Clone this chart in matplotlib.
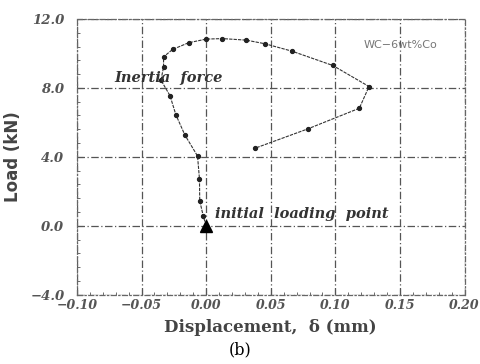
import matplotlib
matplotlib.use("Agg")
import matplotlib.pyplot as plt
from matplotlib.ticker import AutoMinorLocator

# Data (displacement in mm, load in kN), path from initial loading point
disp = [0.0, -0.0023, -0.0050, -0.0052, -0.0067, -0.0165, -0.0235, -0.0280,
        -0.0350, -0.0330, -0.0330, -0.0260, -0.0136, 0.0000, 0.0125, 0.0310,
        0.0455, 0.0664, 0.0980, 0.1260, 0.1185, 0.0785, 0.0377]
load = [0.0, 0.58, 1.45, 2.72, 4.05, 5.27, 6.45, 7.55,
        8.45, 9.20, 9.80, 10.23, 10.62, 10.83, 10.86, 10.77,
        10.56, 10.13, 9.30, 8.08, 6.82, 5.62, 4.50]

xticks = [-0.10, -0.05, 0.00, 0.05, 0.10, 0.15, 0.20]
yticks = [-4.0, 0.0, 4.0, 8.0, 12.0]
xtick_labels = ["\u22120.10", "\u22120.05", "0.00", "0.05", "0.10", "0.15", "0.20"]
ytick_labels = ["\u22124.0", "0.0", "4.0", "8.0", "12.0"]

fig = plt.figure(figsize=(4.81, 3.64), dpi=100)
ax = fig.add_axes([0.160, 0.190, 0.806, 0.758])

ax.set_xlim(-0.10, 0.20)
ax.set_ylim(-4.0, 12.0)
ax.set_xticks(xticks)
ax.set_yticks(yticks)
ax.set_xticklabels(xtick_labels, family="DejaVu Serif", style="italic",
                   weight="bold", fontsize=9, color="#555555")
ax.set_yticklabels(ytick_labels, family="DejaVu Serif", style="italic",
                   weight="bold", fontsize=9.5, color="#555555")
ax.xaxis.set_minor_locator(AutoMinorLocator(5))
ax.yaxis.set_minor_locator(AutoMinorLocator(5))
ax.tick_params(which="both", direction="in", color="#555555")
ax.tick_params(which="major", length=4)
ax.tick_params(axis="x", which="major", pad=3)
ax.tick_params(axis="y", which="major", pad=9)
ax.tick_params(which="minor", length=2)

ax.grid(True, which="major", color="#555555", linestyle=(0, (6, 2, 1, 2)),
        linewidth=0.9)
for s in ax.spines.values():
    s.set_color("#666666")
    s.set_linestyle((0, (4, 2, 1, 2)))
    s.set_linewidth(0.9)

ax.plot(disp, load, color="#333333", linewidth=0.8, linestyle=(0, (3, 1)),
        marker="o", markersize=2.8, markerfacecolor="#222222",
        markeredgecolor="#222222", zorder=3)
ax.plot([disp[0]], [load[0]], marker="^", markersize=8, color="black",
        zorder=4)

ax.text(-0.071, 8.55, "Inertia  force", family="DejaVu Serif", style="italic",
        weight="bold", fontsize=10.5, color="#333333", va="center", ha="left")
ax.text(0.007, 0.7, "initial  loading  point", family="DejaVu Serif",
        style="italic", weight="bold", fontsize=10.5, color="#333333",
        va="center", ha="left")
ax.text(0.122, 10.47, "WC\u22126wt%Co", family="DejaVu Sans", fontsize=8,
        color="#777777", va="center", ha="left")

ax.set_xlabel("Displacement,  \u03b4 (mm)", family="DejaVu Serif",
              weight="bold", fontsize=12, color="#444444", labelpad=5)
ax.set_ylabel("Load (kN)", family="DejaVu Sans", weight="bold", fontsize=12,
              color="#444444", labelpad=6)

fig.text(0.499, 0.038, "(b)", family="DejaVu Serif", fontsize=11.5,
         ha="center", va="center", color="black")

fig.savefig("out.png", dpi=100)
